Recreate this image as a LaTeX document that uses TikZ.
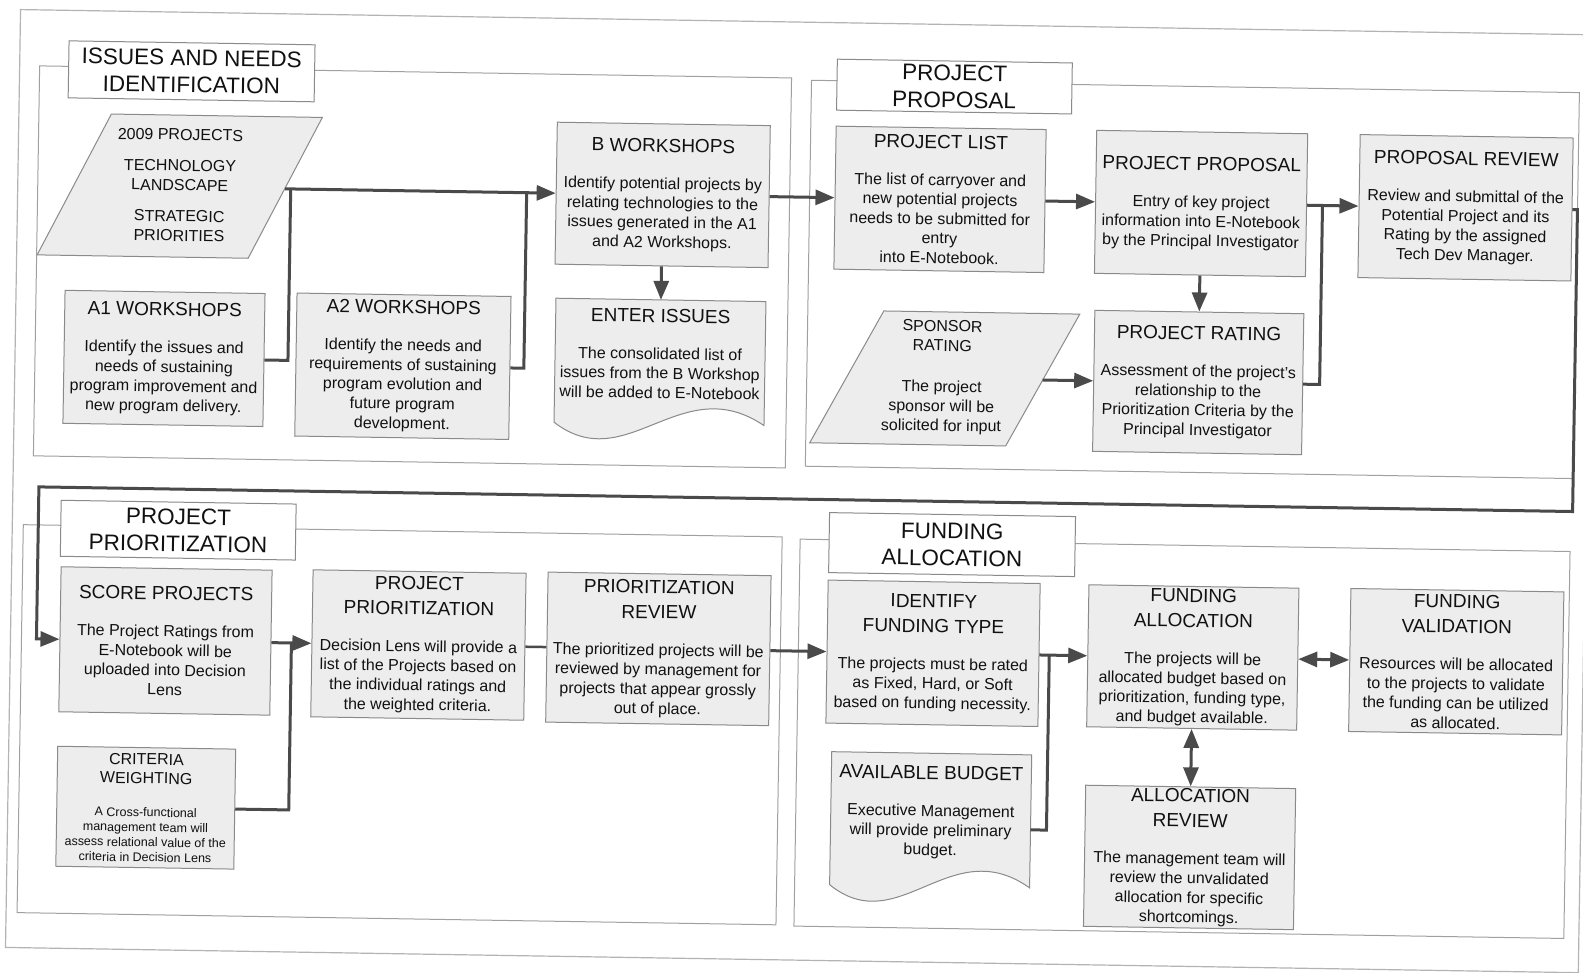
\documentclass[tikz,border=0pt]{standalone}
\usepackage{fontspec}
\setmainfont{Liberation Sans}
\usetikzlibrary{arrows.meta}
\definecolor{boxfill}{HTML}{EDEDED}
\definecolor{boxline}{HTML}{8A8A8A}
\definecolor{frameline}{HTML}{A0A0A0}
\definecolor{conn}{HTML}{4A4A4A}
\definecolor{txt}{HTML}{111111}
\newcommand{\bodyf}{\fontsize{16}{19.5}\selectfont}
\newcommand{\titlef}{\fontsize{19}{23}\selectfont}
\newcommand{\secf}{\fontsize{22.5}{27}\selectfont}
\newcommand{\smallf}{\fontsize{12.5}{15}\selectfont}
\newcommand{\midtf}{\fontsize{16}{19}\selectfont}
\begin{document}
\begin{tikzpicture}[x=1pt,y=-1pt,
  box/.style={draw=boxline, fill=boxfill, line width=1pt, inner sep=2pt, align=center, font=\bodyf, text=txt},
  sz/.style 2 args={minimum width=#1pt, minimum height=#2pt},
  sectitle/.style={draw=boxline, fill=white, line width=1pt, align=center, font=\secf, text=txt, inner sep=2pt},
  frame/.style={draw=frameline, line width=1pt},
  shapeln/.style={draw=boxline, fill=boxfill, line width=1pt},
  plain/.style={align=center, font=\bodyf, text=txt, inner sep=0pt},
  link/.style={draw=conn, line width=3pt},
  arr/.style={link, -{Triangle[length=19pt,width=15pt]}},
  darr/.style={link, {Triangle[length=19pt,width=15pt]}-{Triangle[length=19pt,width=15pt]}},
]
\fill[white] (0,0) rectangle (1583,973);
\useasboundingbox (0,0) rectangle (1583,973);
\begin{scope}[rotate around={-0.92:(791,486)}, transform shape]
% page border
\draw[draw=frameline!80, line width=1.2pt] (13,22) rectangle (1586,960);
% section frames
\draw[frame] (33,78) rectangle (785,468);
\draw[frame] (805,80) rectangle (1573,466);
\draw[frame] (24,537) rectangle (783,925);
\draw[frame] (801,539) rectangle (1571,926);
% section titles
\node[sectitle, sz={246}{57}] (t1) at (185,81) {ISSUES AND NEEDS\\IDENTIFICATION};
\node[sectitle, sz={235}{51}] (t2) at (948,84) {PROJECT\\PROPOSAL};
\node[sectitle, sz={235}{56}] (t3) at (179,540) {PROJECT\\PRIORITIZATION};
\node[sectitle, sz={246}{60}] (t4) at (953,542) {FUNDING\\ALLOCATION};

% ---------- Issues and needs ----------
\draw[shapeln] (105.5,125) -- (316.5,125) -- (244.5,267) -- (33.5,267) -- cycle;
\node[plain] (p2009) at (175,195) {2009 PROJECTS\\[11.5pt]TECHNOLOGY\\LANDSCAPE\\[11.5pt]STRATEGIC\\PRIORITIES};
\coordinate (p2009r) at (280.5,197);

\node[box, sz={200}{133}] (a1) at (162,368.5) {{\titlef A1 WORKSHOPS}\\[17.5pt]Identify the issues and\\needs of sustaining\\program improvement and\\new program delivery.};
\node[box, sz={214}{143}] (a2) at (401,372.5) {{\titlef A2 WORKSHOPS}\\[17.5pt]Identify the needs and\\requirements of sustaining\\program evolution and\\future program\\development.};
\node[box, sz={213}{142}] (bw) at (658,197) {{\titlef B WORKSHOPS}\\[17.5pt]Identify potential projects by\\relating technologies to the\\issues generated in the A1\\and A2 Workshops.};

\draw[shapeln] (553,302) -- (763,302) -- (763,426) .. controls (679,371) and (626.5,481) .. (553,426) -- cycle;
\node[plain] (enter) at (658,356) {{\titlef ENTER ISSUES}\\[17.5pt]The consolidated list of\\issues from the B Workshop\\will be added to E-Notebook};
\coordinate (entertop) at (658,302);

% ---------- Project proposal ----------
\node[box, sz={210}{143}] (plist) at (935.4,197) {{\titlef PROJECT LIST}\\[17.5pt]The list of carryover and\\new potential projects\\needs to be submitted for\\entry\\into E-Notebook.};
\node[box, sz={211}{143}] (pprop) at (1196.5,197) {{\titlef PROJECT PROPOSAL}\\[17.5pt]Entry of key project\\information into E-Notebook\\by the Principal Investigator};
\node[box, sz={213}{143}] (prev) at (1461,197) {{\titlef PROPOSAL REVIEW}\\[17.5pt]Review and submittal of the\\Potential Project and its\\Rating by the assigned\\Tech Dev Manager.};

\draw[shapeln] (881,309.5) -- (1077,309.5) -- (1005,442.5) -- (809,442.5) -- cycle;
\node[plain] (spons) at (940,375) {{\midtf SPONSOR}\\{\midtf RATING}\\[21.5pt]The project\\sponsor will be\\solicited for input};
\coordinate (sponsr) at (1041,376);

\node[box, sz={209}{141}] (prate) at (1196.5,376) {{\titlef PROJECT RATING}\\[17.5pt]Assessment of the project's\\relationship to the\\Prioritization Criteria by the\\Principal Investigator};

% ---------- Project prioritization ----------
\node[box, sz={211}{145}] (score) at (168,651) {{\titlef SCORE PROJECTS}\\[17.5pt]The Project Ratings from\\E-Notebook will be\\uploaded into Decision\\Lens};
\node[box, sz={213}{147}] (prio) at (421,651) {{\titlef PROJECT}\\[5.5pt]{\titlef PRIORITIZATION}\\[17.5pt]Decision Lens will provide a\\list of the Projects based on\\the individual ratings and\\the weighted criteria.};
\node[box, sz={223}{150}] (priorev) at (661,651) {{\titlef PRIORITIZATION}\\[5.5pt]{\titlef REVIEW}\\[17.5pt]The prioritized projects will be\\reviewed by management for\\projects that appear grossly\\out of place.};
\node[box, sz={178}{120}, font=\smallf] (crit) at (151,818) {{\midtf CRITERIA}\\[4pt]{\midtf WEIGHTING}\\[18pt]A Cross-functional\\management team will\\assess relational value of the\\criteria in Decision Lens};

% ---------- Funding allocation ----------
\node[box, sz={212}{143}] (ftype) at (935.7,651) {{\titlef IDENTIFY}\\[5.5pt]{\titlef FUNDING TYPE}\\[17.5pt]The projects must be rated\\as Fixed, Hard, or Soft\\based on funding necessity.};

\draw[shapeln] (836,751) -- (1036,751) -- (1036,884) .. controls (956,829) and (906,939) .. (836,884) -- cycle;
\node[plain] (budget) at (936,810) {{\titlef AVAILABLE BUDGET}\\[17.5pt]Executive Management\\will provide preliminary\\budget.};
\coordinate (budgetr) at (1036,826);

\node[box, sz={210}{142}] (falloc) at (1195.5,651) {{\titlef FUNDING}\\[5.5pt]{\titlef ALLOCATION}\\[17.5pt]The projects will be\\allocated budget based on\\prioritization, funding type,\\and budget available.};
\node[box, sz={213}{143}] (fval) at (1459,651) {{\titlef FUNDING}\\[5.5pt]{\titlef VALIDATION}\\[17.5pt]Resources will be allocated\\to the projects to validate\\the funding can be utilized\\as allocated.};
\node[box, sz={210}{141}] (arev) at (1195.5,851) {{\titlef ALLOCATION}\\[5.5pt]{\titlef REVIEW}\\[17.5pt]The management team will\\review the unvalidated\\allocation for specific\\shortcomings.};

% ---------- connectors ----------
\coordinate (j1) at (286,197);
\coordinate (j2) at (522,197);
\draw[arr] (p2009r) -- (bw.west);
\draw[link] (a1.east) -| (j1);
\draw[link] (a2.east) -| (j2);
\draw[arr] (bw.south) -- (entertop);
\draw[arr] (bw.east) -- (plist.west);
\draw[arr] (plist.east) -- (pprop.west);
\coordinate (j3) at (1318,197);
\draw[arr] (pprop.east) -- (prev.west);
\draw[link] (prate.east) -| (j3);
\draw[arr] (pprop.south) -- (prate.north);
\draw[arr] (sponsr) -- (prate.west);
\coordinate (r1) at (1573,197);
\coordinate (r2) at (1573,499);
\coordinate (r3) at (39,499);
\coordinate (r4) at (39,651);
\draw[arr] (prev.east) -- (r1) -- (r2) -- (r3) -- (r4) -- (score.west);
\coordinate (j4) at (294,651);
\draw[arr] (score.east) -- (prio.west);
\draw[link] (crit.east) -| (j4);
\draw[draw=conn, line width=2.5pt] (prio.east) -- (priorev.west);
\draw[arr] (priorev.east) -- (ftype.west);
\coordinate (j5) at (1052,651);
\draw[arr] (ftype.east) -- (falloc.west);
\draw[link] (budgetr) -| (j5);
\draw[darr] (falloc.east) -- (fval.west);
\draw[darr] (falloc.south) -- (arev.north);
\end{scope}
\end{tikzpicture}
\end{document}
